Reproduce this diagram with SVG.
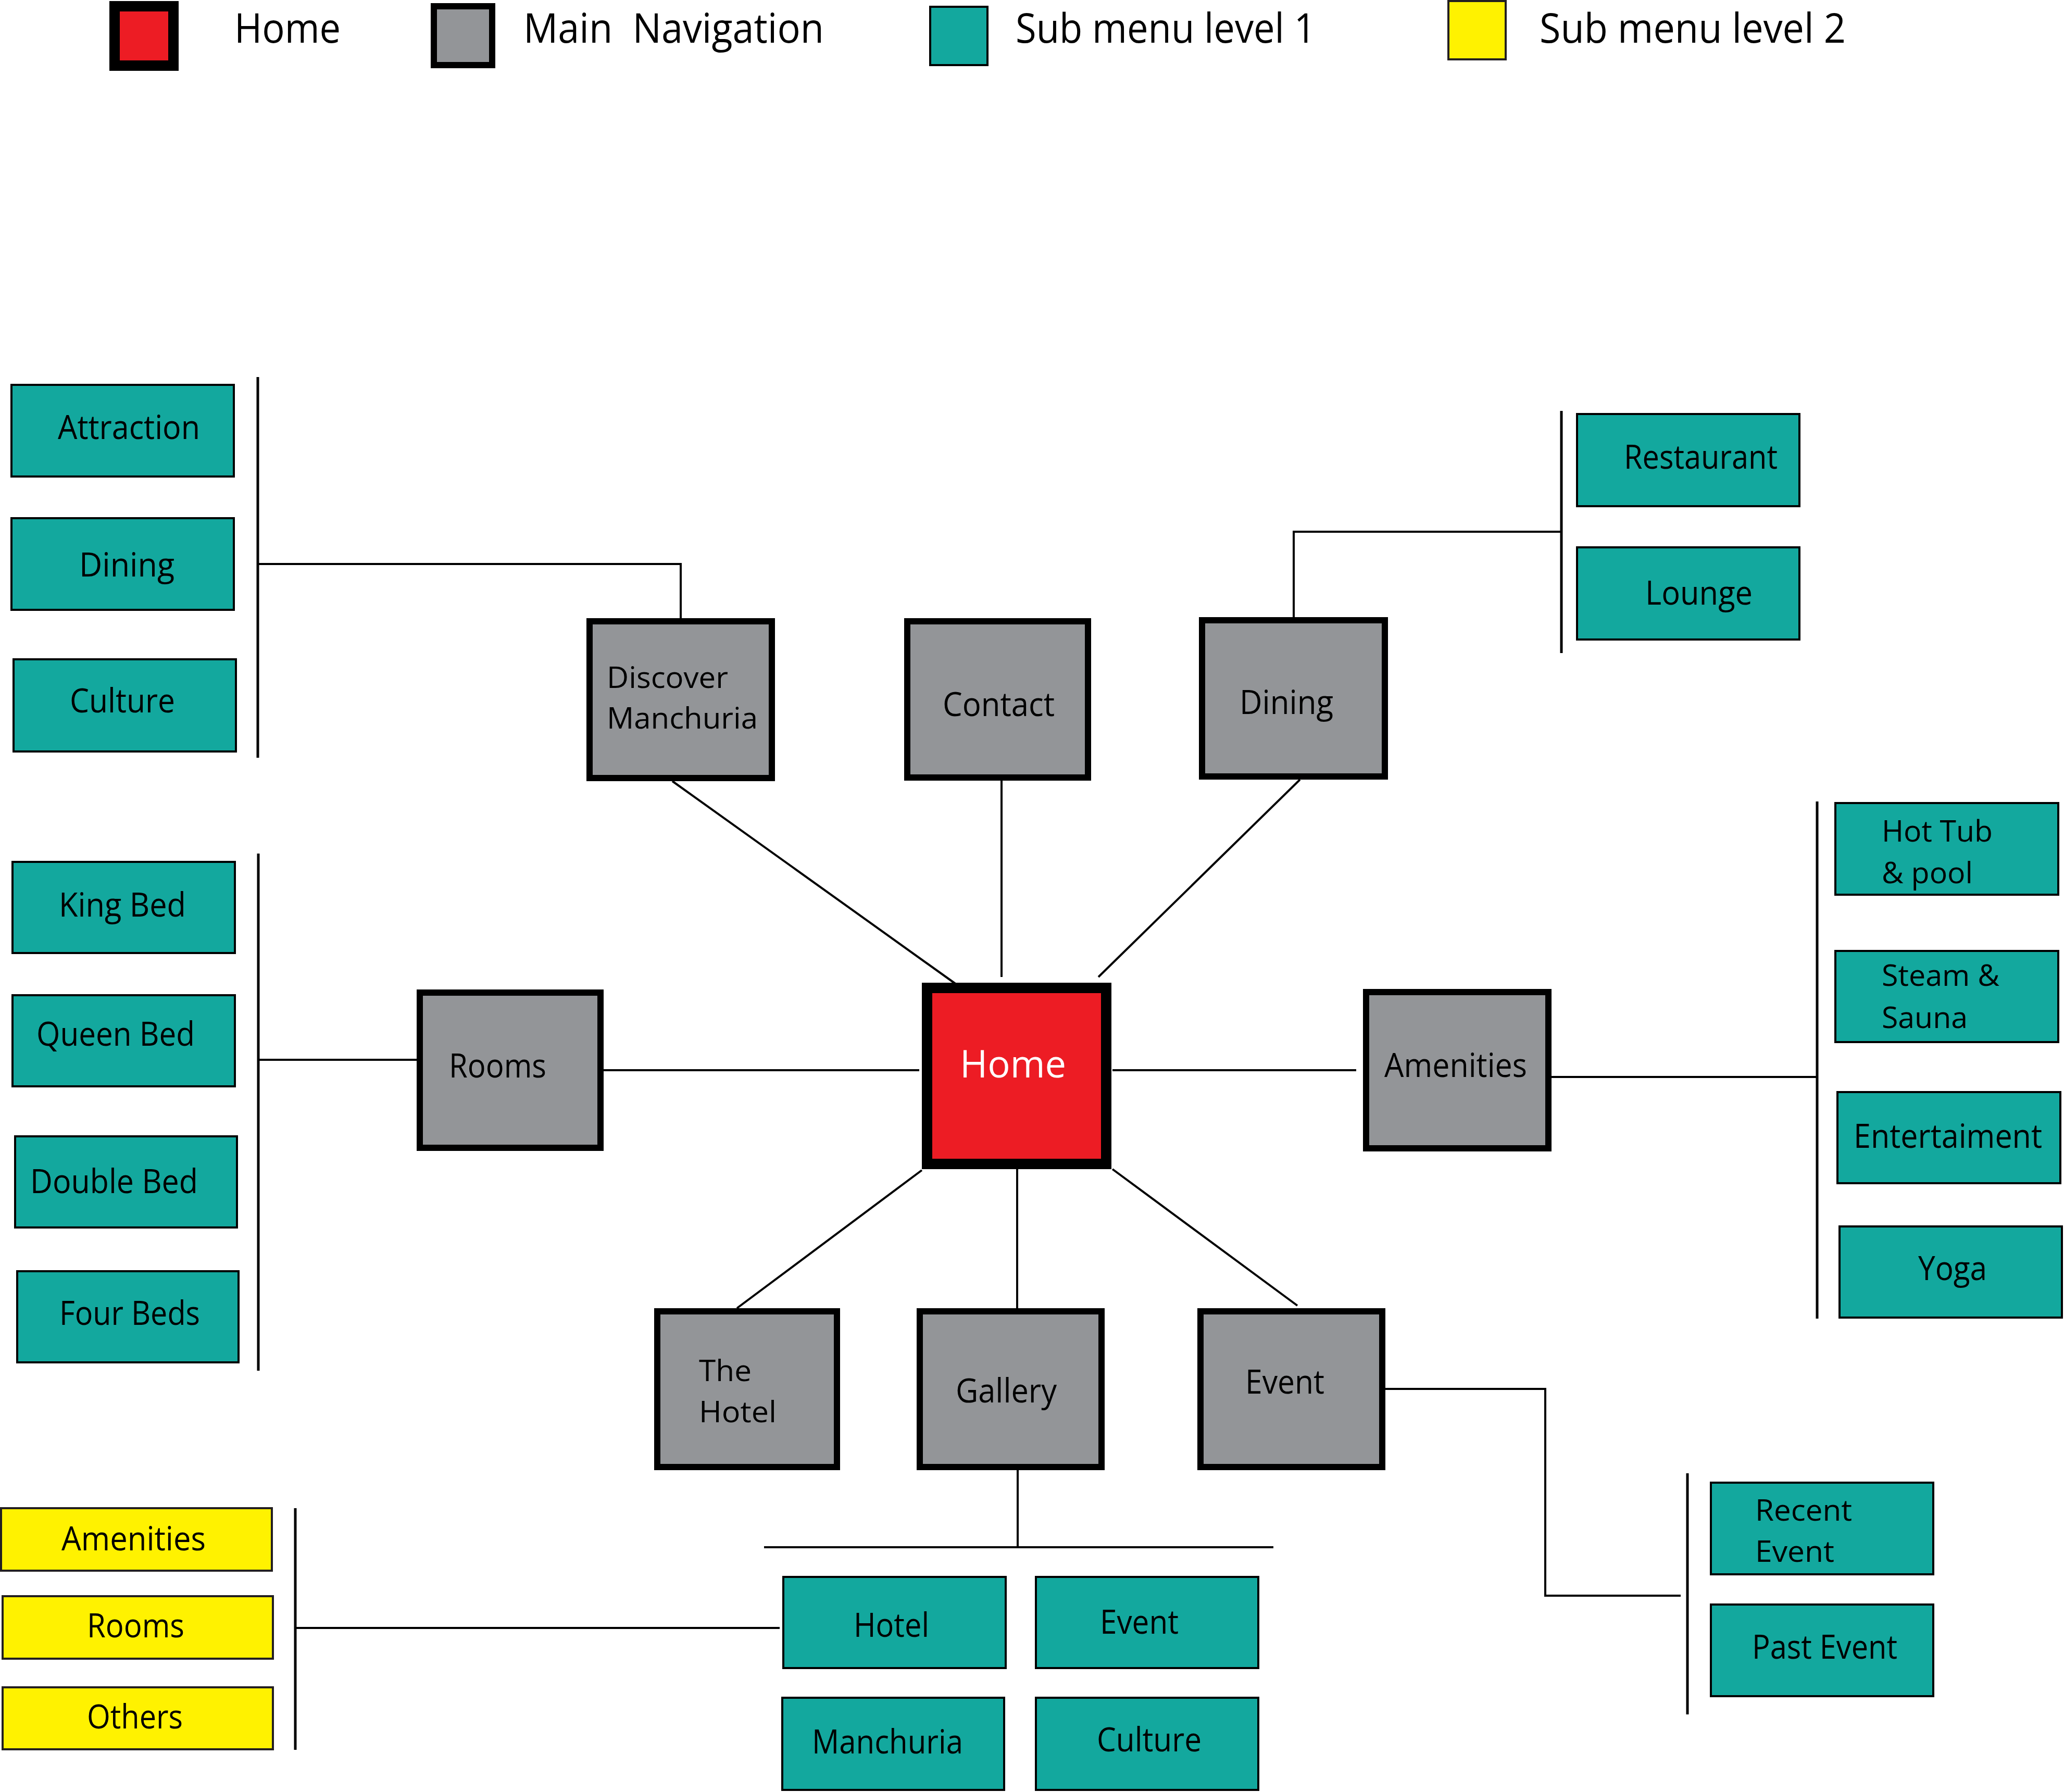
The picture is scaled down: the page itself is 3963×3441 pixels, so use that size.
<svg xmlns="http://www.w3.org/2000/svg" width="3963" height="3441" viewBox="0 0 3963 3441">
<style>
text{font-family:"Open Sans","Noto Sans","Liberation Sans",sans-serif;font-size:64px;fill:#000;white-space:pre}
.lg{font-size:78px}
.hm{font-size:74px;fill:#fff}
.two{font-size:57px}
.nav{fill:#939598;stroke:#000;stroke-width:12}
.home{fill:#ed1c24;stroke:#000;stroke-width:20}
.sub1{fill:#13a89e;stroke:#000;stroke-width:4}
.sub2{fill:#fff200;stroke:#231f20;stroke-width:4}
.conn line,.conn polyline{stroke:#000;stroke-width:4;fill:none}
.conn .br{stroke-width:5}
</style>
<rect width="3963" height="3441" fill="#fff"/>
<g id="legend">
<rect class="home" x="220" y="12" width="113" height="114"/>
<text class="lg" x="450" y="82" textLength="204" lengthAdjust="spacingAndGlyphs">Home</text>
<rect class="nav" x="833" y="12" width="112" height="113"/>
<text class="lg" x="1005" y="82" textLength="577" lengthAdjust="spacingAndGlyphs">Main  Navigation</text>
<rect class="sub1" x="1786" y="13" width="110" height="112"/>
<text class="lg" x="1950" y="82" textLength="576" lengthAdjust="spacingAndGlyphs">Sub menu level 1</text>
<rect class="sub2" x="2781" y="2" width="110" height="112"/>
<text class="lg" x="2956" y="82" textLength="588" lengthAdjust="spacingAndGlyphs">Sub menu level 2</text>
</g>
<g id="connectors" class="conn">
<line x1="1291" y1="1500" x2="1836" y2="1890"/>
<line x1="1923" y1="1499" x2="1923" y2="1876"/>
<line x1="2496" y1="1497" x2="2109" y2="1876"/>
<line x1="1159" y1="2055" x2="1765" y2="2055"/>
<line x1="2136" y1="2055" x2="2604" y2="2055"/>
<line x1="1770" y1="2247" x2="1415" y2="2512"/>
<line x1="1953" y1="2245" x2="1953" y2="2512"/>
<line x1="2136" y1="2245" x2="2491" y2="2507"/>
<polyline points="1307,1187 1307,1083 495,1083"/>
<line class="br" x1="495" y1="724" x2="495" y2="1455"/>
<polyline points="2484,1185 2484,1021 2998,1021"/>
<line class="br" x1="2998" y1="789" x2="2998" y2="1254"/>
<line x1="800" y1="2035" x2="496" y2="2035"/>
<line class="br" x1="496" y1="1639" x2="496" y2="2632"/>
<line x1="2979" y1="2068" x2="3489" y2="2068"/>
<line class="br" x1="3489" y1="1539" x2="3489" y2="2532"/>
<polyline points="2660,2667 2967,2667 2967,3064 3227,3064"/>
<line class="br" x1="3240" y1="2829" x2="3240" y2="3292"/>
<line x1="1954" y1="2823" x2="1954" y2="2971"/>
<line x1="1467" y1="2971" x2="2445" y2="2971"/>
<line x1="1497" y1="3126" x2="567" y2="3126"/>
<line class="br" x1="567" y1="2896" x2="567" y2="3360"/>
</g>
<g id="node-home"><rect class="home" x="1780" y="1897" width="344" height="338"/><text class="hm" x="1843" y="2069" textLength="204" lengthAdjust="spacingAndGlyphs">Home</text></g>
<g id="node-discover"><rect class="nav" x="1132" y="1193" width="350" height="301"/><text class="two" x="1165" y="1321" textLength="233" lengthAdjust="spacingAndGlyphs">Discover</text><text class="two" x="1165" y="1399" textLength="290" lengthAdjust="spacingAndGlyphs">Manchuria</text></g>
<g id="node-contact"><rect class="nav" x="1742" y="1193" width="347" height="300"/><text x="1810" y="1375" textLength="215" lengthAdjust="spacingAndGlyphs">Contact</text></g>
<g id="node-dining"><rect class="nav" x="2308" y="1191" width="351" height="300"/><text x="2380" y="1371" textLength="180" lengthAdjust="spacingAndGlyphs">Dining</text></g>
<g id="node-rooms"><rect class="nav" x="806" y="1906" width="347" height="298"/><text x="862" y="2069" textLength="187" lengthAdjust="spacingAndGlyphs">Rooms</text></g>
<g id="node-amenities"><rect class="nav" x="2623" y="1905" width="350" height="300"/><text x="2658" y="2068" textLength="274" lengthAdjust="spacingAndGlyphs">Amenities</text></g>
<g id="node-thehotel"><rect class="nav" x="1262" y="2518" width="345" height="299"/><text class="two" x="1342" y="2652" textLength="101" lengthAdjust="spacingAndGlyphs">The</text><text class="two" x="1342" y="2731" textLength="149" lengthAdjust="spacingAndGlyphs">Hotel</text></g>
<g id="node-gallery"><rect class="nav" x="1766" y="2518" width="349" height="299"/><text x="1835" y="2693" textLength="194" lengthAdjust="spacingAndGlyphs">Gallery</text></g>
<g id="node-event"><rect class="nav" x="2305" y="2518" width="349" height="299"/><text x="2391" y="2676" textLength="152" lengthAdjust="spacingAndGlyphs">Event</text></g>
<g id="sub-attraction"><rect class="sub1" x="22" y="739" width="427" height="176"/><text x="111" y="843" textLength="273" lengthAdjust="spacingAndGlyphs">Attraction</text></g>
<g id="sub-dining"><rect class="sub1" x="22" y="995" width="427" height="176"/><text x="152" y="1107" textLength="183" lengthAdjust="spacingAndGlyphs">Dining</text></g>
<g id="sub-culture"><rect class="sub1" x="26" y="1266" width="427" height="177"/><text x="134" y="1368" textLength="202" lengthAdjust="spacingAndGlyphs">Culture</text></g>
<g id="sub-restaurant"><rect class="sub1" x="3028" y="795" width="427" height="177"/><text x="3118" y="900" textLength="295" lengthAdjust="spacingAndGlyphs">Restaurant</text></g>
<g id="sub-lounge"><rect class="sub1" x="3028" y="1051" width="427" height="177"/><text x="3159" y="1161" textLength="206" lengthAdjust="spacingAndGlyphs">Lounge</text></g>
<g id="sub-kingbed"><rect class="sub1" x="24" y="1655" width="427" height="175"/><text x="113" y="1760" textLength="244" lengthAdjust="spacingAndGlyphs">King Bed</text></g>
<g id="sub-queenbed"><rect class="sub1" x="24" y="1911" width="427" height="175"/><text x="70" y="2008" textLength="304" lengthAdjust="spacingAndGlyphs">Queen Bed</text></g>
<g id="sub-doublebed"><rect class="sub1" x="29" y="2182" width="426" height="175"/><text x="58" y="2291" textLength="322" lengthAdjust="spacingAndGlyphs">Double Bed</text></g>
<g id="sub-fourbeds"><rect class="sub1" x="33" y="2441" width="425" height="175"/><text x="114" y="2544" textLength="270" lengthAdjust="spacingAndGlyphs">Four Beds</text></g>
<g id="sub-hottub"><rect class="sub1" x="3524" y="1542" width="428" height="176"/><text class="two" x="3613" y="1616" textLength="213" lengthAdjust="spacingAndGlyphs">Hot Tub</text><text class="two" x="3613" y="1696" textLength="175" lengthAdjust="spacingAndGlyphs">&amp; pool</text></g>
<g id="sub-steam"><rect class="sub1" x="3524" y="1826" width="428" height="175"/><text class="two" x="3613" y="1893" textLength="226" lengthAdjust="spacingAndGlyphs">Steam &amp;</text><text class="two" x="3613" y="1974" textLength="165" lengthAdjust="spacingAndGlyphs">Sauna</text></g>
<g id="sub-entertaiment"><rect class="sub1" x="3528" y="2097" width="428" height="175"/><text x="3559" y="2204" textLength="362" lengthAdjust="spacingAndGlyphs">Entertaiment</text></g>
<g id="sub-yoga"><rect class="sub1" x="3532" y="2355" width="427" height="175"/><text x="3683" y="2458" textLength="132" lengthAdjust="spacingAndGlyphs">Yoga</text></g>
<g id="sub-recentevent"><rect class="sub1" x="3285" y="2847" width="427" height="176"/><text class="two" x="3370" y="2920" textLength="186" lengthAdjust="spacingAndGlyphs">Recent</text><text class="two" x="3370" y="2999" textLength="152" lengthAdjust="spacingAndGlyphs">Event</text></g>
<g id="sub-pastevent"><rect class="sub1" x="3285" y="3081" width="427" height="176"/><text x="3364" y="3185" textLength="279" lengthAdjust="spacingAndGlyphs">Past Event</text></g>
<g id="sub-hotel"><rect class="sub1" x="1504" y="3028" width="427" height="175"/><text x="1639" y="3143" textLength="145" lengthAdjust="spacingAndGlyphs">Hotel</text></g>
<g id="sub-event"><rect class="sub1" x="1989" y="3028" width="427" height="175"/><text x="2112" y="3137" textLength="151" lengthAdjust="spacingAndGlyphs">Event</text></g>
<g id="sub-manchuria"><rect class="sub1" x="1502" y="3260" width="426" height="177"/><text x="1559" y="3367" textLength="290" lengthAdjust="spacingAndGlyphs">Manchuria</text></g>
<g id="sub-culture2"><rect class="sub1" x="1989" y="3260" width="427" height="177"/><text x="2106" y="3363" textLength="201" lengthAdjust="spacingAndGlyphs">Culture</text></g>
<g id="sub2-amenities"><rect class="sub2" x="2" y="2896" width="520" height="120"/><text x="118" y="2977" textLength="277" lengthAdjust="spacingAndGlyphs">Amenities</text></g>
<g id="sub2-rooms"><rect class="sub2" x="5" y="3065" width="519" height="120"/><text x="167" y="3144" textLength="187" lengthAdjust="spacingAndGlyphs">Rooms</text></g>
<g id="sub2-others"><rect class="sub2" x="5" y="3240" width="519" height="119"/><text x="167" y="3319" textLength="184" lengthAdjust="spacingAndGlyphs">Others</text></g>
</svg>
